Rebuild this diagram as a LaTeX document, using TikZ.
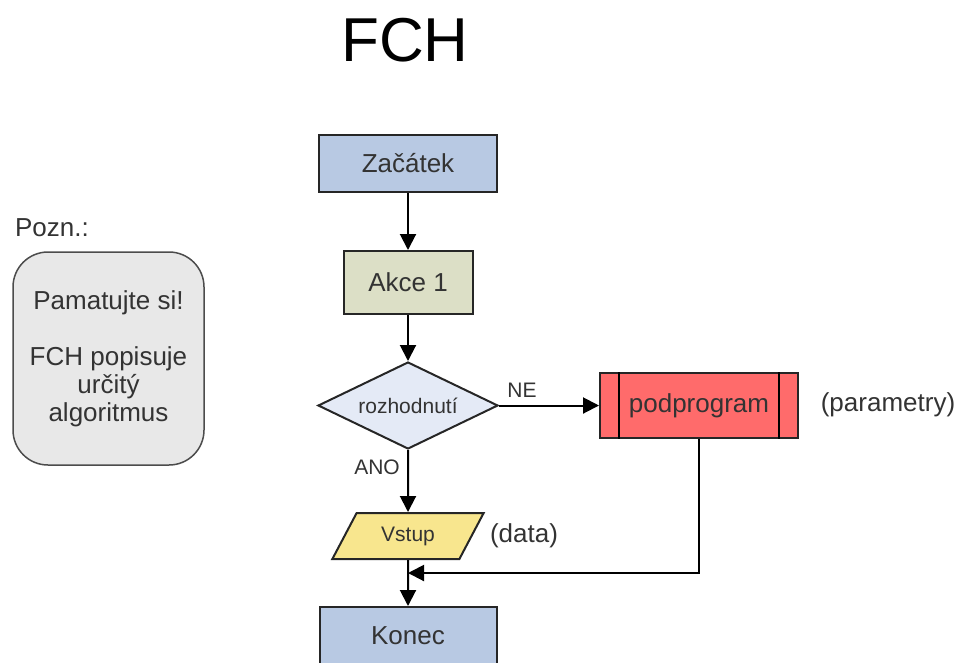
\documentclass[tikz,border=0pt]{standalone}
\usepackage{fontspec}
\setmainfont{Liberation Sans}
\usetikzlibrary{shapes.geometric,arrows.meta}

\definecolor{startblue}{HTML}{B8C9E3}
\definecolor{actgreen}{HTML}{DCDFC6}
\definecolor{decblue}{HTML}{E4EAF6}
\definecolor{subred}{HTML}{FF6B6B}
\definecolor{inpyellow}{HTML}{F8E68E}
\definecolor{notegray}{HTML}{E8E8E8}
\definecolor{txt}{HTML}{333333}

\newcommand{\bigtxt}{\fontsize{26}{28}\selectfont}
\newcommand{\smalltxt}{\fontsize{21}{23}\selectfont}

\tikzset{
    block/.style={draw=black!85, line width=2pt, rectangle, text=txt, font=\bigtxt},
    decbox/.style={draw=black!85, line width=2pt, diamond, aspect=2.07, fill=decblue, inner sep=0pt,
        minimum width=180pt, minimum height=87pt, text=txt, font=\smalltxt},
    inpbox/.style={draw=black!85, line width=2pt, trapezium, trapezium left angle=56,
        trapezium right angle=124, trapezium stretches=true, fill=inpyellow, inner sep=0pt,
        minimum width=152pt, minimum height=46pt, text=txt, font=\smalltxt},
    flow/.style={line width=2pt, -{Triangle[length=16pt,width=16pt]}},
    line/.style={line width=2pt},
    label/.style={text=txt, font=\bigtxt},
    small label/.style={text=txt, font=\smalltxt}
}

\begin{document}
\begin{tikzpicture}[x=1pt,y=-1pt]
    \clip (0,0) rectangle (957,662);

    \node[font=\fontsize{62}{64}\selectfont] (title) at (405,40) {FCH};

    % flow chart
    \node[block, fill=startblue, minimum width=178pt, minimum height=57pt] (start) at (408,163.5) {Začátek};
    \node[block, fill=actgreen, minimum width=129pt, minimum height=63pt] (act) at (408,282.5) {Akce 1};
    \node[decbox] (dec) at (408,405.5) {rozhodnutí};
    \node[block, fill=subred, minimum width=198pt, minimum height=65pt] (sub) at (699,405.5) {podprogram};
    \node[inpbox] (inp) at (408,536) {Vstup};
    \node[block, fill=startblue, minimum width=177pt, minimum height=57pt] (stop) at (408,635.5) {Konec};

    \draw[line] ([xshift=20pt]sub.north west) -- ([xshift=20pt]sub.south west);
    \draw[line] ([xshift=-20pt]sub.north east) -- ([xshift=-20pt]sub.south east);

    \coordinate (join) at (408,573);

    \draw[flow] (start) -- (act);
    \draw[flow] (act) -- (dec);
    \draw[flow] (dec.east) -- (sub.west);
    \draw[flow] (dec.south) -- (inp.north);
    \draw[flow] (inp.south) -- (stop.north);
    \draw[flow] (sub.south) |- (join);

    \node[small label] (ne) at (522,390) {NE};
    \node[small label] (ano) at (377,467) {ANO};
    \node[label] (params) at (888,405) {(parametry)};
    \node[label] (data) at (524,536) {(data)};

    % note
    \node[label] (pozn) at (52,228) {Pozn.:};
    \node[draw=black!70, line width=1.5pt, fill=notegray, rounded corners=35pt,
        minimum width=191pt, minimum height=213pt, align=center, text=txt,
        font=\fontsize{26}{28}\selectfont] (note) at (108.5,358.5)
        {Pamatujte si!\\[28pt]FCH popisuje\\určitý\\algoritmus};
\end{tikzpicture}
\end{document}
